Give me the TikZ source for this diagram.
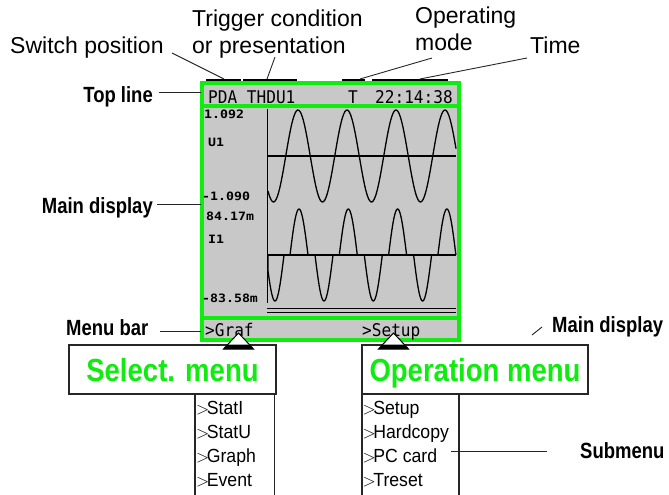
\documentclass[tikz,border=0pt]{standalone}
\usepackage{fontspec}
\setmainfont{Liberation Sans}
\newfontfamily\labelfont{Liberation Sans}
\newfontfamily\condbold{Liberation Sans}[FakeStretch=0.84]
\newfontfamily\greenbold{Liberation Sans}[FakeStretch=0.86]
\newfontfamily\itemfont{Liberation Sans}[FakeStretch=0.93]
\newfontfamily\lcdfont{DejaVu Sans Mono}[FakeStretch=0.92]
\newfontfamily\lcdsmall{DejaVu Sans Mono}[FakeStretch=1.15]
\definecolor{lcdgray}{RGB}{200,200,200}
\definecolor{lgreen}{RGB}{16,235,16}
\tikzset{
  toplab/.style={font=\labelfont\fontsize{23}{25}\selectfont, inner sep=0pt, anchor=base west},
  boldlab/.style={font=\condbold\bfseries\fontsize{22}{24}\selectfont, inner sep=0pt},
  leader/.style={draw=black!85, line width=0.9pt},
  lcd/.style={font=\lcdfont\fontsize{17.5}{19}\selectfont, inner sep=0pt, anchor=base west},
  lcdsm/.style={font=\lcdsmall\bfseries\fontsize{11.5}{13}\selectfont, inner sep=0pt, anchor=west},
  menubox/.style={draw=black!85, line width=1.1pt, fill=white, inner sep=0pt,
     font=\greenbold\bfseries\fontsize{32}{34}\selectfont, text=lgreen,
     text height=23pt, text depth=0pt},
  menuitem/.style={font=\itemfont\fontsize{19}{21}\selectfont, inner sep=0pt, anchor=base west},
  wave/.style={line width=1.3pt, draw=black},
  greenline/.style={draw=lgreen, line width=3.5pt},
  pointer/.style={draw=black, line width=1pt, fill=white},
}
\begin{document}
\begin{tikzpicture}[x=1pt,y=-1pt]
\useasboundingbox (0,0) rectangle (669,495);

% ---- top labels
\node[toplab] (swpos) at (10,54) {Switch position};
\node[toplab] (trig1) at (192,27) {Trigger condition};
\node[toplab] (trig2) at (192,54) {or presentation};
\node[toplab] (op1) at (415,24) {Operating};
\node[toplab] (op2) at (415,51) {mode};
\node[toplab] (time) at (530,54) {Time};

% ---- side labels
\node[boldlab, anchor=base east] (topline) at (153,102) {Top line};
\node[boldlab, anchor=base east] (maindisp) at (153,213) {Main display};
\node[boldlab, anchor=base west] (menubar) at (66,335) {Menu bar};
\node[boldlab, anchor=base west] (maindisp2) at (552,332) {Main display};
\node[boldlab, anchor=base west] (submenu) at (580,458) {Submenu};

% ---- display
\fill[lcdgray] (202,83) rectangle (459,340);
\fill (206,78.5) coordinate (barA1) rectangle (241,83) coordinate (barA2);
\fill (243,78.5) coordinate (barB1) rectangle (297,83) coordinate (barB2);
\fill (342,78.5) coordinate (barC1) rectangle (365,83) coordinate (barC2);
\fill (372,78.5) coordinate (barD1) rectangle (448,83) coordinate (barD2);
\draw[greenline] (202,83) coordinate (dispNW) rectangle (459,340) coordinate (dispSE);
\draw[greenline] (202,106) -- (459,106);
\draw[greenline] (202,318) -- (459,318);

\node[lcd] (pda) at (208,103) {PDA THDU1};
\node[lcd] (tflag) at (348,103) {T};
\node[lcd] (clock) at (375,103) {22:14:38};

\node[lcdsm] (umax) at (204,114) {1.092};
\node[lcdsm] (uname) at (208,142) {U1};
\node[lcdsm] (umin) at (202,196) {-1.090};
\node[lcdsm] (imax) at (206,216) {84.17m};
\node[lcdsm] (iname) at (208,239) {I1};
\node[lcdsm] (imin) at (202,298) {-83.58m};

% axes
\draw[wave] (267.5,109) -- (267.5,303);
\draw[wave] (267.5,156) -- (456,156);
\draw[wave] (267.5,255) -- (456,255);
\draw[line width=1pt] (267,308.5) -- (456,308.5);
\draw[line width=1pt] (267,312) -- (456,312);

% voltage
\draw[wave] plot[domain=268:456, samples=160, smooth] (\x, {156 - 46*sin(7.3469*(\x-285.75))});
% current
\draw[wave] (268,255) -- plot[domain=-7:9, samples=25] ({275+\x}, {255 + 46*cos(10*\x)});
\foreach \c/\s in {299/1, 348.3/1, 397.6/1, 324/-1, 373.3/-1, 422.6/-1}
  \draw[wave] plot[domain=-9:9, samples=25] ({\c+\x}, {255 - \s*46*cos(10*\x)});
\draw[wave] plot[domain=-9:9, samples=25] ({446.9+\x}, {255 - 46*cos(10*\x)});

% menu bar
\node[lcd] (graf) at (205,336) {>Graf};
\node[lcd] (setup) at (362,336) {>Setup};

% ---- menu boxes
\node[menubox, minimum width=207pt, minimum height=49pt] (selbox) at (172.5,369.5) {Select. menu};
\node[menubox, minimum width=226pt, minimum height=49pt] (opbox) at (475,369.5) {Operation menu};

% pointers
\filldraw[pointer] (238.5,333) coordinate (ptrA) -- (253.5,349) -- (223.5,349) -- cycle;
\fill (227.7,344.5) -- (249.3,344.5) -- (253.5,349) -- (223.5,349) -- cycle;
\filldraw[pointer] (393.5,333) coordinate (ptrB) -- (408.5,349) -- (378.5,349) -- cycle;
\fill (382.7,344.5) -- (404.3,344.5) -- (408.5,349) -- (378.5,349) -- cycle;

% ---- submenus
\draw[draw=black!85, line width=1.1pt] (195,495.5) -- (195,394) (274.5,394) -- (274.5,495.5);
\draw[draw=black!85, line width=1.1pt] (362,495.5) -- (362,394) (459,394) -- (459,495.5);

\node[menuitem] (s1) at (196,414) {$>$\kern-2.5pt StatI};
\node[menuitem] (s2) at (196,438) {$>$\kern-2.5pt StatU};
\node[menuitem] (s3) at (196,462) {$>$\kern-2.5pt Graph};
\node[menuitem] (s4) at (196,486) {$>$\kern-2.5pt Event};
\node[menuitem] (o1) at (362.5,414) {$>$\kern-2.5pt Setup};
\node[menuitem] (o2) at (362.5,438) {$>$\kern-2.5pt Hardcopy};
\node[menuitem] (o3) at (362.5,462) {$>$\kern-2.5pt PC card};
\node[menuitem] (o4) at (362.5,486) {$>$\kern-2.5pt Treset};

% ---- leaders
\coordinate (swA) at (172,53);   \coordinate (swB) at (224,79);
\coordinate (trA) at (275,57);   \coordinate (trB) at (267,79);
\coordinate (opA) at (432,58);   \coordinate (opB) at (360,79);
\coordinate (tiA) at (527,58);   \coordinate (tiB) at (420,79);
\coordinate (tlA) at (159,92);   \coordinate (tlB) at (201,92);
\coordinate (mdA) at (157,204);  \coordinate (mdB) at (201,204);
\coordinate (mbA) at (160,331);  \coordinate (mbB) at (201,331);
\coordinate (m2A) at (532,335);  \coordinate (m2B) at (542,327);
\coordinate (smA) at (451,451);  \coordinate (smB) at (547,451);
\draw[leader] (swA) -- (swB);
\draw[leader] (trA) -- (trB);
\draw[leader] (opA) -- (opB);
\draw[leader] (tiA) -- (tiB);
\draw[leader] (tlA) -- (tlB);
\draw[leader] (mdA) -- (mdB);
\draw[leader] (mbA) -- (mbB);
\draw[leader] (m2A) -- (m2B);
\draw[leader] (smA) -- (smB);
\end{tikzpicture}
\end{document}
